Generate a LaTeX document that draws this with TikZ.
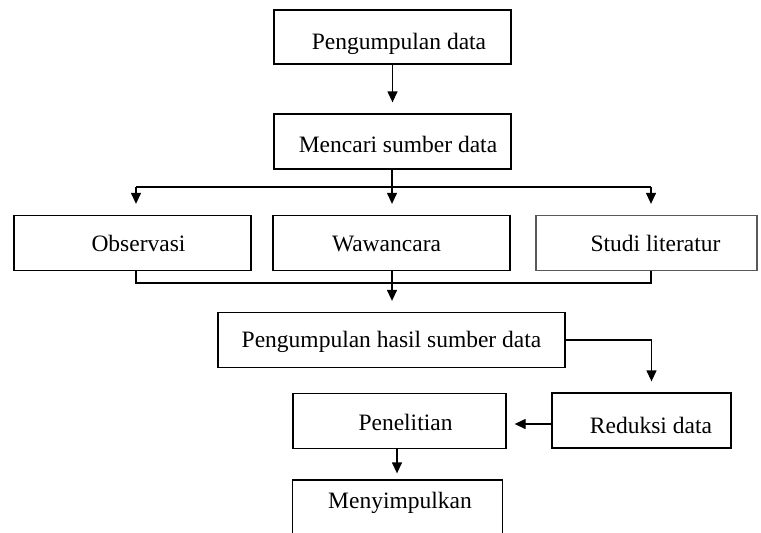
\documentclass[tikz,border=0pt]{standalone}
\usepackage{fontspec}
\setmainfont{Liberation Serif}
\usetikzlibrary{arrows.meta}
\begin{document}
\begin{tikzpicture}[x=1pt,y=-1pt,
  box/.style={draw, line width=1.3pt, inner sep=0pt, text height=17pt, text depth=0pt, font=\fontsize{23.5}{28}\selectfont},
  lbl/.style={inner sep=0pt, font=\fontsize{23.5}{28}\selectfont},
  arr/.style={line width=1.3pt, -{Triangle[length=11pt,width=10pt]}},
  ln/.style={line width=1.3pt}]
\useasboundingbox (0,0) rectangle (761,533);
\clip (0,0) rectangle (761,533);
% boxes
\node[box, text height=24pt, minimum width=237pt, minimum height=54pt] (b1) at (392.5,37) {\hspace*{13pt}Pengumpulan data};
\node[box, text height=21pt, minimum width=237pt, minimum height=55pt] (b2) at (392.5,141.5) {\hspace*{11pt}Mencari sumber data};
\node[box, minimum width=237pt, minimum height=55pt] (obs) at (132.5,243) {\hspace*{12pt}Observasi};
\node[box, minimum width=237pt, minimum height=55pt] (waw) at (391.5,243) {Wawancara\hspace*{10pt}};
\node[box, draw=black!65, minimum width=221pt, minimum height=55pt] (stu) at (646.5,243) {\hspace*{18pt}Studi literatur};
\node[box, text height=14pt, minimum width=347pt, minimum height=55pt] (hsl) at (391.5,340) {Pengumpulan hasil sumber data};
\node[box, text height=25pt, minimum width=179pt, minimum height=55pt] (red) at (641.5,420.5) {\hspace*{19pt}Reduksi data};
\node[box, text height=19pt, minimum width=213pt, minimum height=55pt] (pen) at (399.5,421) {\hspace*{12pt}Penelitian};
\node[box, text height=0pt, minimum width=210pt, minimum height=80pt] (men) at (397.5,520) {};
\node[lbl, anchor=base] (mentxt) at (400,508) {Menyimpulkan};
% coordinates
\coordinate (j1) at (392,187);
\coordinate (ja) at (136,187);
\coordinate (jc) at (651,187);
\coordinate (ka) at (136,283);
\coordinate (kc) at (651,283);
\coordinate (kb) at (392,283);
\coordinate (h1) at (651.5,340);
\coordinate (p1) at (397,449);
\coordinate (r1) at (552,424);
% connectors
\draw[arr, shorten >=11pt] (b1.south) -- (b2.north);
\draw[ln] (b2.south -| j1) -- (j1);
\draw[ln] (ja) -- (jc);
\draw[arr, shorten >=11pt] (ja) -- (ja |- obs.north);
\draw[arr, shorten >=11pt] (j1) -- (j1 |- waw.north);
\draw[arr, shorten >=11pt] (jc) -- (jc |- stu.north);
\draw[ln] (ka |- obs.south) -- (ka) -- (kc) -- (kc |- stu.south);
\draw[arr, shorten >=11pt] (kb |- waw.south) -- (kb |- hsl.north);
\draw[ln] (hsl.east |- h1) -- (h1);
\draw[arr, shorten >=11pt] (h1) -- (h1 |- red.north);
\draw[arr, shorten >=8pt] (r1) -- (r1 -| pen.east);
\draw[arr, shorten >=6pt] (p1) -- (p1 |- men.north);
\end{tikzpicture}
\end{document}
